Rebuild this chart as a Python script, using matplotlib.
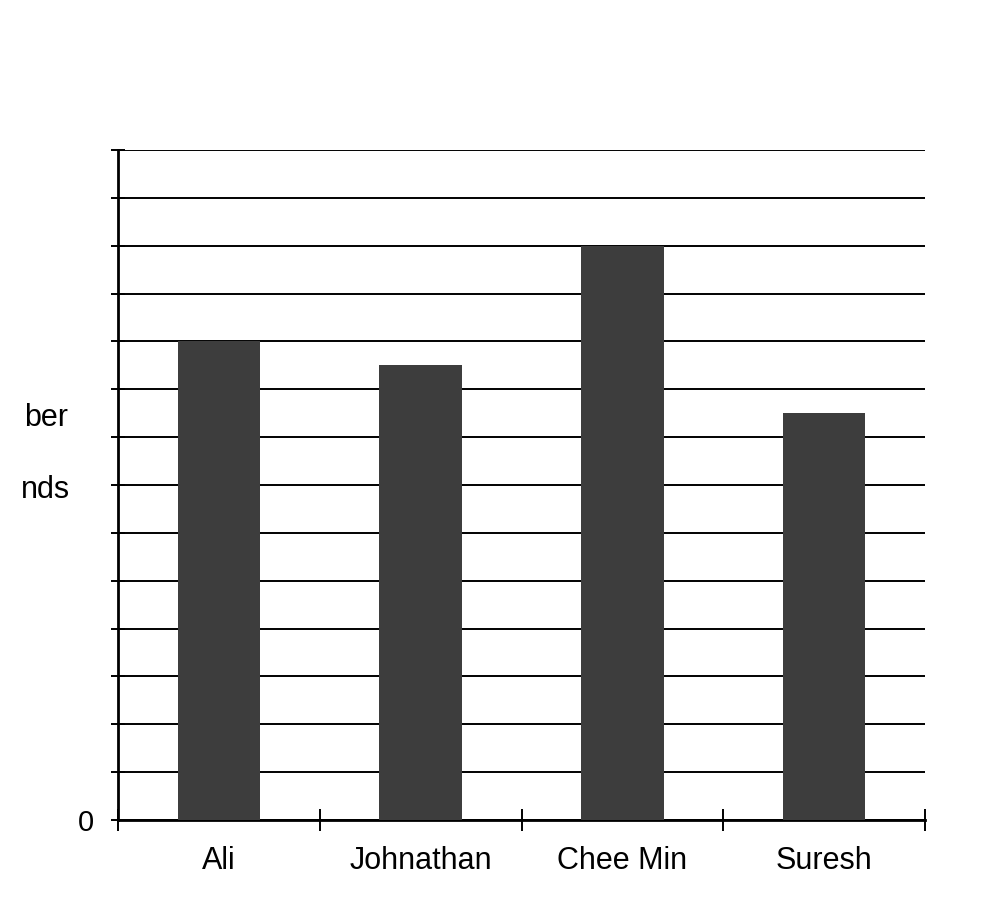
import matplotlib
matplotlib.use("Agg")
import matplotlib.pyplot as plt
import numpy as np

names = ["Ali", "Johnathan", "Chee Min", "Suresh"]
friends = [10, 9.5, 12, 8.5]
y_ticks = list(range(0, 15))
y_tick_labels = ["0"] + [""] * 14
ylabel_lines = ["ber", "nds"]

fig = plt.figure(figsize=(9.91, 8.99), dpi=100)
ax = fig.add_axes([118/991, 1 - 820/899, (925-118)/991, (820-150)/899])

x = np.arange(len(names))
ax.bar(x, friends, width=0.41, color="#3d3d3d", zorder=3)
ax.set_xlim(-0.5, len(names) - 0.5)
ax.set_ylim(0, 14)
ax.set_yticks(y_ticks)
ax.set_yticklabels(y_tick_labels, fontsize=21, family="Liberation Sans")
ax.yaxis.grid(True, color="black", linewidth=1.4, zorder=1)
ax.set_xticks(x)
ax.set_xticklabels(names, fontsize=22, family="Liberation Sans")
ax.set_xticks(np.arange(len(names) + 1) - 0.5, minor=True)
ax.tick_params(axis="x", which="major", length=0, pad=19)
ax.tick_params(axis="x", which="minor", length=16, width=1.4, direction="inout")
ax.tick_params(axis="y", length=10, width=1.4, direction="inout", pad=12)
for s in ["top", "right"]:
    ax.spines[s].set_visible(False)
ax.spines["left"].set_linewidth(2)
ax.spines["bottom"].set_linewidth(2)

fig.text(68/991, 1 - 418/899, ylabel_lines[0], ha="right", va="center", fontsize=22, family="Liberation Sans")
fig.text(70/991, 1 - 490/899, ylabel_lines[1], ha="right", va="center", fontsize=22, family="Liberation Sans")

fig.savefig("out.png", dpi=100, facecolor="white")
